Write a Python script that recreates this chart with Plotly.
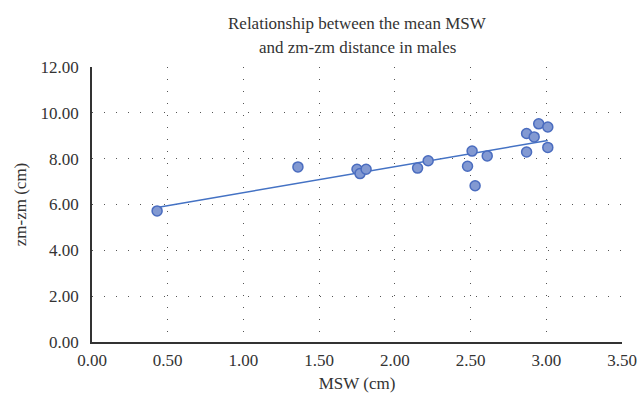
import numpy as np
import plotly.graph_objects as go

msw = [0.43, 1.36, 1.75, 1.77, 1.81, 2.15, 2.22, 2.48, 2.51, 2.53, 2.61, 2.87, 2.87, 2.92, 2.95, 3.01, 3.01]
zmzm = [5.72, 7.64, 7.54, 7.35, 7.54, 7.59, 7.91, 7.67, 8.33, 6.82, 8.12, 9.10, 8.29, 8.95, 9.52, 9.38, 8.49]

title_lines = ["Relationship between the mean MSW", "and zm-zm distance in males"]
x_title = "MSW (cm)"
y_title = "zm-zm (cm)"

slope, intercept = np.polyfit(msw, zmzm, 1)
xfit = [min(msw), max(msw)]
yfit = [slope * v + intercept for v in xfit]

FONT = "Liberation Serif"
fig = go.Figure()
fig.add_trace(go.Scatter(x=xfit, y=yfit, mode="lines",
                         line=dict(color="#4472c4", width=1.5), hoverinfo="skip"))
fig.add_trace(go.Scatter(x=msw, y=zmzm, mode="markers",
                         marker=dict(size=10, color="#8299d2",
                                     line=dict(color="#4a6cbf", width=1.5))))

fig.update_layout(
    width=640, height=405,
    margin=dict(l=92, r=18, t=67, b=63, autoexpand=False),
    paper_bgcolor="white", plot_bgcolor="white",
    showlegend=False,
    font=dict(family=FONT, size=17, color="#333333"),
)
for txt, yy in zip(title_lines, [1.158, 1.072]):
    fig.add_annotation(text=txt, xref="paper", yref="paper", x=0.5, y=yy,
                       xanchor="center", yanchor="middle", showarrow=False,
                       font=dict(family=FONT, size=17, color="#333333"))

fig.update_xaxes(range=[0, 3.5], tickvals=[0, 0.5, 1, 1.5, 2, 2.5, 3, 3.5],
                 ticktext=["0.00", "0.50", "1.00", "1.50", "2.00", "2.50", "3.00", "3.50"],
                 showgrid=True, gridcolor="#555555", gridwidth=1, griddash="1px,11px",
                 showline=True, linecolor="#333333", linewidth=1.5,
                 zeroline=False, ticks="", ticklabelstandoff=2, automargin=False,
                 tickfont=dict(size=17),
                 title=dict(text=x_title, standoff=8, font=dict(size=17)))
fig.update_yaxes(range=[0, 12], tickvals=[0, 2, 4, 6, 8, 10, 12],
                 ticktext=["0.00", "2.00", "4.00", "6.00", "8.00", "10.00", "12.00"],
                 showgrid=True, gridcolor="#555555", gridwidth=1, griddash="1px,11px",
                 showline=True, linecolor="#333333", linewidth=1.5,
                 zeroline=False, ticks="", ticklabelstandoff=8, automargin=False,
                 tickfont=dict(size=17),
                 title=dict(text=y_title, standoff=10, font=dict(size=17)))

fig.write_html("out.html", config={"displayModeBar": False},
               post_script="document.body.style.margin='0';document.body.style.overflow='hidden';")
